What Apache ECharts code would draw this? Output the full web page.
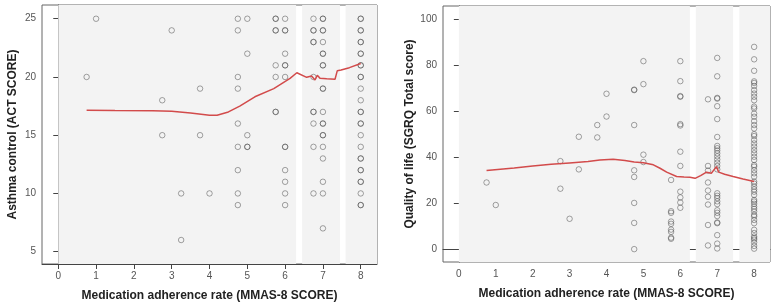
<!DOCTYPE html>
<html>
<head>
<meta charset="utf-8">
<script src="https://cdn.jsdelivr.net/npm/echarts@6/dist/echarts.min.js"></script>
<style>
html, body { margin: 0; padding: 0; background: #fff; }
#chart { width: 777px; height: 307px; }
</style>
</head>
<body>
<div id="chart"></div>
<script>
// MMAS-8 levels shared by both panels
var mmasLevels = [0.75, 1, 2.75, 3, 3.25, 3.75, 4, 4.75, 5, 5.75, 6, 6.75, 7, 8]

// ACT scores per level (duplicates = overlapping circles)
var actByLevel = [
	[20],
	[25],
	[18, 15],
	[24],
	[10, 6],
	[19, 15],
	[10],
	[25, 24, 20, 19, 16, 14, 12, 10, 9],
	[25, 22, 15, 14, 14],
	[25, 25, 24, 24, 21, 20, 17, 17],
	[25, 24, 24, 22, 21, 21, 20, 14, 14, 12, 11, 10, 9],
	[25, 24, 24, 23, 23, 20, 17, 17, 16, 14, 10],
	[25, 25, 24, 24, 23, 22, 22, 21, 21, 19, 19, 17, 16, 16, 15, 15, 14, 13, 11, 10, 7],
	[25, 25, 24, 24, 23, 23, 22, 22, 21, 21, 20, 20, 19, 18, 17, 17, 16, 16, 15, 14, 13, 13, 12, 12, 11, 11, 10, 9, 9]
]

// SGRQ total score per level
var sgrqByLevel = [
	[29],
	[19.2],
	[38.3, 26.3],
	[13.2],
	[48.9, 34.7],
	[54, 48.6],
	[67.6, 57.7],
	[69.4, 69.2, 54, 34.3, 31.4, 20.1, 11.4, 0],
	[81.8, 71.8, 41.1, 37.9],
	[30.1, 16.5, 15.8, 12, 11, 8.5, 7.5, 5, 4.5],
	[81.8, 73.1, 66.6, 66.3, 54.4, 53.8, 42.4, 36.2, 25, 22.5, 20.3, 18],
	[65.2, 36.2, 34.2, 29, 25.5, 22.8, 19.4, 10.5, 1.6],
	[83.2, 75.2, 65.8, 65.5, 62.2, 56.6, 48.8, 44.9, 43.9, 42.9, 41.7, 40.4, 39, 37.6, 36.2, 34.7,
		24.3, 23.2, 22.2, 20.8, 19.6, 16.9, 15.8, 14.4, 11.6, 11.3, 6.1, 2.4, 0.3],
	[88, 82.6, 77.6, 73, 72.3, 71, 69.2, 67.7, 66.3, 64.8, 62, 61.2, 59, 57.6, 55.7, 54, 52.5, 50, 49.2,
		47.5, 46, 44.6, 43.1, 41.7, 40.2, 38.8, 36.6, 35.9, 34.4, 33, 31.5, 29.4, 28.5, 27.2, 26, 25, 23.6,
		21.4, 20.7, 19.7, 18.5, 17.5, 16.4, 14.9, 14.2, 12.7, 11.3, 8.4, 7, 5.5, 4.8, 4.1, 2.9, 1.4, 0.2]
]

// loess fit lines
var actFitX = [0.75, 1.5, 2.5, 3, 3.5, 4, 4.2, 4.5, 4.8, 5.2, 5.7, 6.13, 6.31, 6.57, 6.7, 6.79, 6.85, 6.92, 7.1, 7.32, 7.38, 7.48, 7.7, 8]
var actFitY = [17.15, 17.12, 17.1, 17.05, 16.9, 16.72, 16.72, 17.0, 17.5, 18.3, 19.0, 19.88, 20.36, 19.97, 20.08, 19.74, 20.14, 19.9, 19.85, 19.8, 20.54, 20.6, 20.8, 21.15]
var sgrqFitX = [0.75, 1.5, 2, 2.5, 3, 3.5, 3.82, 4.18, 4.5, 4.75, 5, 5.27, 5.45, 5.63, 5.9, 6.1, 6.26, 6.4, 6.55, 6.71, 6.84, 6.89, 6.98, 7.04, 7.2, 7.43, 7.7, 8]
var sgrqFitY = [34.2, 35.3, 36.2, 36.9, 37.5, 38.1, 38.8, 39.1, 38.6, 37.9, 37.6, 36.7, 35.2, 33.5, 31.6, 31.4, 31.3, 30.8, 32.0, 33.5, 33.0, 32.8, 35.9, 33.5, 32.6, 31.6, 30.5, 29.4]

// shaded column bands [from, to] in MMAS units
var actBands = [[0, 6.29], [6.45, 7.45], [7.6, 8.43]]
var sgrqBands = [[0, 6.26], [6.42, 7.43], [7.6, 8.43]]

// tick labels
var xTicks = [0, 1, 2, 3, 4, 5, 6, 7, 8]
var actTicks = [5, 10, 15, 20, 25]
var sgrqTicks = [0, 20, 40, 60, 80, 100]

function toPoints(levels, byLevel) {
	var pts = []
	levels.forEach(function(x, i) {
		byLevel[i].forEach(function(y) {
			pts.push([x, y])
		})
	})
	return pts
}
function zip(xs, ys) {
	return xs.map(function(x, i) { return [x, ys[i]] })
}

var fontName = 'Liberation Sans, Arial, sans-serif'

function xAxisOf(idx) {
	return {
		type: 'value',
		gridIndex: idx,
		min: -0.43,
		max: 8.43,
		name: 'Medication adherence rate (MMAS-8 SCORE)',
		nameLocation: 'middle',
		nameGap: 26,
		nameTextStyle: { fontFamily: fontName, fontWeight: 'bold', fontSize: 12, color: '#222' },
		axisLine: { show: true, lineStyle: { color: '#444' } },
		axisTick: { show: true, length: 5, lineStyle: { color: '#444' }, customValues: xTicks },
		axisLabel: { fontFamily: fontName, fontSize: 10, color: '#555', margin: 7, customValues: xTicks },
		splitLine: { show: false }
	}
}
function yAxisOf(idx, min, max, ticks, name, gap) {
	return {
		type: 'value',
		gridIndex: idx,
		min: min,
		max: max,
		name: name,
		nameLocation: 'middle',
		nameGap: gap,
		nameTextStyle: { fontFamily: fontName, fontWeight: 'bold', fontSize: 12, color: '#222' },
		axisLine: { show: true, lineStyle: { color: '#444' } },
		axisTick: { show: true, length: 5, lineStyle: { color: '#444' }, customValues: ticks },
		axisLabel: { fontFamily: fontName, fontSize: 10, color: '#555', margin: 6, customValues: ticks },
		splitLine: { show: false }
	}
}
function bandSeries(idx, bands) {
	return {
		type: 'line',
		xAxisIndex: idx,
		yAxisIndex: idx,
		data: [],
		z: 1,
		silent: true,
		markArea: {
			silent: true,
			itemStyle: { color: '#f3f3f3' },
			data: bands.map(function(b) { return [{ xAxis: b[0] }, { xAxis: b[1] }] })
		}
	}
}
function scatterSeries(idx, pts) {
	return {
		type: 'scatter',
		xAxisIndex: idx,
		yAxisIndex: idx,
		data: pts,
		symbol: 'circle',
		symbolSize: 5.5,
		z: 3,
		itemStyle: { color: 'rgba(0,0,0,0)', borderColor: 'rgba(70,70,70,0.62)', borderWidth: 1 }
	}
}
function fitSeries(idx, pts) {
	return {
		type: 'line',
		xAxisIndex: idx,
		yAxisIndex: idx,
		data: pts,
		symbol: 'none',
		smooth: false,
		z: 4,
		lineStyle: { color: '#d24b4b', width: 1.5 }
	}
}

var myChart = echarts.init(document.getElementById('chart'))
myChart.setOption({
	animation: false,
	grid: [
		{ left: 42, top: 5, right: 400, bottom: 43, show: true, borderColor: '#666', borderWidth: 1 },
		{ left: 443, top: 6, right: 7, bottom: 45, show: true, borderColor: '#666', borderWidth: 1 }
	],
	xAxis: [xAxisOf(0), xAxisOf(1)],
	yAxis: [
		yAxisOf(0, 3.94, 26.18, actTicks, 'Asthma control (ACT SCORE)', 23),
		yAxisOf(1, -5.6, 105.8, sgrqTicks, 'Quality of life (SGRQ Total score)', 27)
	],
	series: [
		bandSeries(0, actBands),
		scatterSeries(0, toPoints(mmasLevels, actByLevel)),
		fitSeries(0, zip(actFitX, actFitY)),
		bandSeries(1, sgrqBands),
		scatterSeries(1, toPoints(mmasLevels, sgrqByLevel)),
		fitSeries(1, zip(sgrqFitX, sgrqFitY))
	]
})
</script>
</body>
</html>
